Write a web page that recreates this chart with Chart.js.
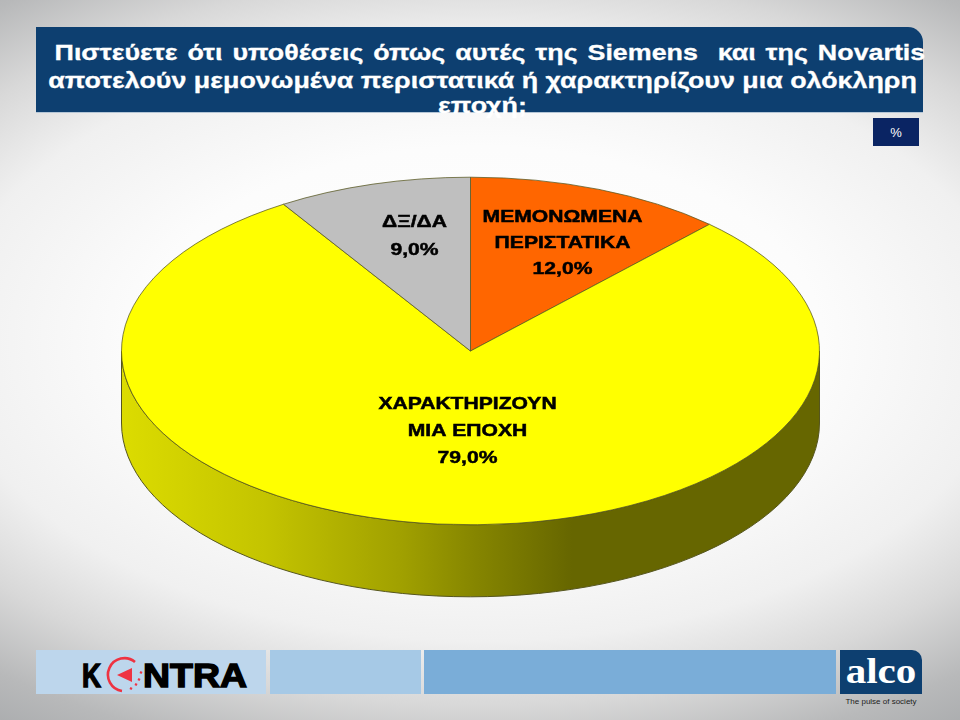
<!DOCTYPE html>
<html lang="el">
<head>
<meta charset="utf-8">
<title>Siemens Novartis</title>
<script src="https://cdn.jsdelivr.net/npm/chart.js@4"></script>
<style>
html, body { margin: 0; padding: 0; }
body {
    width: 960px; height: 720px; overflow: hidden; position: relative;
    font-family: "Liberation Sans", Arial, sans-serif;
    background: radial-gradient(ellipse 760px 430px at 480px 340px, #ffffff 0%, #fcfcfc 45%, #f0f0f0 70%, #d8d8d8 85%, #b8b9ba 100%, #a8aaac 112%);
}
#chart { position: absolute; left: 0; top: 0; }
.box { position: absolute; }
#banner {
    left: 36px; top: 27px; width: 887px; height: 85px; background: #0d3f70;
    border-top-right-radius: 15px; box-shadow: 0 1px 0 #b5c6d6;
}
#title {
    position: absolute; left: 39px; top: 39px; width: 887px; text-align: center;
    color: #fff; font-weight: bold; font-size: 22px; line-height: 28px;
    transform: scaleX(1.22); -webkit-text-stroke: 0.3px #fff;
}
#title .first { word-spacing: 2px; position: relative; left: 2px; }
#title .last { position: relative; top: -3px; }
#unit {
    left: 873px; top: 118px; width: 46px; height: 28px; background: #0a2463;
    color: #fff; font-size: 13px; line-height: 29px; text-align: center;
}
#alco {
    left: 840px; top: 650px; width: 82px; height: 44px; background: #0d3f70;
    border-top-right-radius: 10px;
}
#alco span {
    display: block; color: #fff; text-align: center; font-weight: bold;
    font-family: "Liberation Serif", serif; font-size: 36px; line-height: 42px;
    transform: scaleX(1.14);
}
#pulse { left: 840px; top: 697px; width: 82px; text-align: center; font-size: 8px; color: #222; }
#logo { position: absolute; left: 0; top: 0; }
</style>
</head>
<body>
<div class="box" id="banner"></div>
<div id="title"><span class="first">&nbsp;Πιστεύετε ότι υποθέσεις όπως αυτές της Siemens&nbsp; και της Novartis</span><br>αποτελούν μεμονωμένα περιστατικά ή χαρακτηρίζουν μια ολόκληρη<br><span class="last">εποχή;</span></div>
<div class="box" id="unit">%</div>

<div class="box" style="left:36px;top:650px;width:230px;height:44px;background:#bdd6ec"></div>
<div class="box" style="left:270px;top:650px;width:151px;height:44px;background:#a6c9e6"></div>
<div class="box" style="left:424px;top:650px;width:412px;height:44px;background:#7aadd8"></div>
<div class="box" id="alco"><span>alco</span></div>
<div class="box" id="pulse">The pulse of society</div>
<svg id="logo" width="960" height="720">
    <text x="82" y="687" font-family="Liberation Sans" font-weight="bold" font-size="33" textLength="19" lengthAdjust="spacingAndGlyphs" stroke="#000" stroke-width="1.4">K</text>
    <text x="143" y="687" font-family="Liberation Sans" font-weight="bold" font-size="33" textLength="104" lengthAdjust="spacingAndGlyphs" stroke="#000" stroke-width="1.4">NTRA</text>
    <path d="M135 662 A16.5 16.5 0 1 0 122 691" fill="none" stroke="#ee3342" stroke-width="2.6"/>
    <path d="M117 675 L132 668 L132 682 Z" fill="#ee3342"/>
    <path d="M140 672 L142 673 M138 679 L140 680 M135 684 L137 685 M130 688 L132 689" stroke="#ee3342" stroke-width="2.4"/>
</svg>

<canvas id="chart" width="960" height="720"></canvas>

<script>
var categories = ['ΜΕΜΟΝΩΜΕΝΑ ΠΕΡΙΣΤΑΤΙΚΑ', 'ΧΑΡΑΚΤΗΡΙΖΟΥΝ ΜΙΑ ΕΠΟΧΗ', 'ΔΞ/ΔΑ']
var values = [12.0, 79.0, 9.0]
var sliceColors = ['#ff6600', '#ffff00', '#bfbfbf']
var labelLines = [['ΜΕΜΟΝΩΜΕΝΑ', 'ΠΕΡΙΣΤΑΤΙΚΑ'], ['ΧΑΡΑΚΤΗΡΙΖΟΥΝ', 'ΜΙΑ ΕΠΟΧΗ'], ['ΔΞ/ΔΑ']]

// offset of each label block from the pie centre, on screen
var labelOffsets = [[92, -108], [-3, 80], [-56, -115]]
var labelGaps = [26, 27, 28]

var centerY = 351   // where the top face centre lands on screen
var squash = 0.498  // flattens the round pie into the tilted ellipse
var depth = 72      // height of the side wall
var textStretch = 1.24

function sideFill(ctx) {
    var g = ctx.createLinearGradient(121, 0, 820, 0)
    g.addColorStop(0, '#dcdc00')
    g.addColorStop(0.206, '#c4c400')
    g.addColorStop(0.402, '#a0a000')
    g.addColorStop(0.509, '#858500')
    g.addColorStop(0.645, '#666600')
    g.addColorStop(1, '#666600')
    return g
}

var pie3d = {
    id: 'pie3d',
    beforeDatasetsDraw: function (chart) {
        var ctx = chart.ctx
        var arcs = chart.getDatasetMeta(0).data

        // side wall, only the part of each slice that faces the viewer
        arcs.forEach(function (arc) {
            var from = Math.max(arc.startAngle, 0)
            var to = Math.min(arc.endAngle, Math.PI)
            if (to <= from) return
            var ry = arc.outerRadius * squash
            ctx.beginPath()
            ctx.ellipse(arc.x, centerY, arc.outerRadius, ry, 0, from, to)
            ctx.ellipse(arc.x, centerY + depth, arc.outerRadius, ry, 0, to, from, true)
            ctx.closePath()
            ctx.fillStyle = sideFill(ctx)
            ctx.fill()
            ctx.strokeStyle = '#55551e'
            ctx.lineWidth = 1
            ctx.stroke()
        })

        ctx.save()
        ctx.translate(0, centerY)
        ctx.scale(1, squash)
        ctx.translate(0, -arcs[0].y)
    },
    afterDatasetsDraw: function (chart) {
        var ctx = chart.ctx
        var arcs = chart.getDatasetMeta(0).data
        ctx.restore()

        ctx.fillStyle = '#000'
        ctx.strokeStyle = '#000'
        ctx.lineWidth = 0.5
        ctx.textAlign = 'center'
        ctx.textBaseline = 'middle'
        ctx.font = 'bold 17px "Liberation Sans"'
        arcs.forEach(function (arc, i) {
            var lines = labelLines[i].concat(values[i].toFixed(1).replace('.', ',') + '%')
            var x = arc.x + labelOffsets[i][0]
            var y = centerY + labelOffsets[i][1]
            lines.forEach(function (line, n) {
                var rowY = y + (n - (lines.length - 1) / 2) * labelGaps[i]
                ctx.save()
                ctx.translate(x, rowY)
                ctx.scale(textStretch, 1)
                ctx.fillText(line, 0, 0)
                ctx.strokeText(line, 0, 0)
                ctx.restore()
            })
        })
    }
}

var mypie = new Chart(document.getElementById('chart'), {
    type: 'pie',
    data: {
        labels: categories,
        datasets: [{
            data: values,
            backgroundColor: sliceColors,
            borderColor: '#55551e',
            borderWidth: 1
        }]
    },
    options: {
        responsive: false,
        animation: false,
        layout: { padding: { left: 121, right: 140, top: 10, bottom: 11 } },
        plugins: { legend: { display: false }, tooltip: { enabled: false } }
    },
    plugins: [pie3d]
})
</script>
</body>
</html>
